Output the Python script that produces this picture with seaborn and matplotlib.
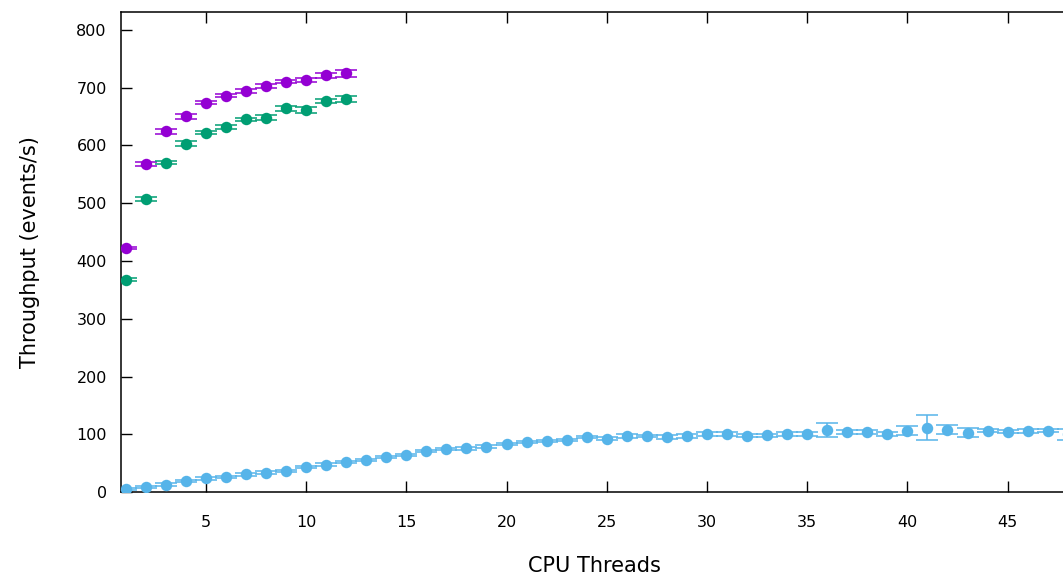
import numpy as np
import pandas as pd
import matplotlib
matplotlib.use("Agg")
import matplotlib.pyplot as plt
import seaborn as sns

# ---- data ----
threads_small = list(range(1, 13))
purple_vals = [422, 568, 624, 650, 674, 686, 694, 703, 710, 713, 721, 725]
purple_err = [2, 3, 4, 4, 3, 3, 3, 3, 3, 4, 4, 6]
green_vals = [368, 507, 570, 603, 622, 632, 645, 648, 664, 661, 677, 680]
green_err = [3, 4, 3, 4, 3, 3, 3, 4, 4, 5, 4, 5]

threads_large = list(range(1, 49))
blue_vals = [5.5, 9, 13.5, 19, 24, 27, 31, 34, 37, 44,
             48, 52, 56, 61, 65, 71, 75, 76, 79, 83,
             86.5, 89, 91, 96, 93, 97, 97, 96, 97, 101,
             101, 98, 98.5, 101, 101, 108, 104, 104, 101, 106.5,
             112, 108, 103, 106.5, 105, 106, 106.5, 100]
blue_err = [2, 2, 2, 2, 2, 2, 2, 2, 2, 2,
            2, 2, 2, 2, 2, 2, 2, 2, 2, 2,
            2, 2, 2, 2, 2, 3, 2, 3, 3, 3,
            3, 3, 3, 3, 3, 11.5, 3, 3, 3, 8,
            21.5, 8, 8, 3, 3, 3, 3, 10]

x_ticks = [5, 10, 15, 20, 25, 30, 35, 40, 45]
y_ticks = [0, 100, 200, 300, 400, 500, 600, 700, 800]
x_label = "CPU Threads"
y_label = "Throughput (events/s)"

colors = ["#9400D3", "#009E73", "#56B4E9"]

# ---- style ----
sns.set_theme(style="ticks")
plt.rcParams["font.family"] = ["DejaVu Sans"]
plt.rcParams["text.color"] = "black"
plt.rcParams["axes.labelcolor"] = "black"

fig = plt.figure(figsize=(10.63, 5.82), dpi=100)
ax = fig.add_axes([0.1135, 0.1541, 0.8921, 0.8247])

series = [
    (threads_small, purple_vals, purple_err, colors[0]),
    (threads_small, green_vals, green_err, colors[1]),
    (threads_large, blue_vals, blue_err, colors[2]),
]

for xs, ys, es, c in series:
    ax.errorbar(xs, ys, yerr=es, fmt="none", ecolor=c, elinewidth=1.1,
                capsize=7.8, capthick=1.1, zorder=2)
    df = pd.DataFrame({"x": xs, "y": ys})
    sns.scatterplot(data=df, x="x", y="y", ax=ax, color=c, s=68,
                    linewidth=0, zorder=3, legend=False)

ax.set_xlim(0.75, 48.06)
ax.set_ylim(0, 830)
ax.set_xticks(x_ticks)
ax.set_yticks(y_ticks)
ax.tick_params(axis="both", direction="in", length=8, width=1.0,
               labelsize=11.5, colors="black", labelcolor="black")
ax.tick_params(axis="x", top=True, pad=16)
ax.tick_params(axis="y", right=False, pad=10)
ax.spines["right"].set_visible(False)
for s in ax.spines.values():
    s.set_linewidth(1.1)
    s.set_color("black")

ax.set_xlabel(x_label, fontsize=15, labelpad=19)
ax.set_ylabel(y_label, fontsize=15, labelpad=26)
ax.grid(False)
ax.set_facecolor("white")
fig.patch.set_facecolor("white")

fig.savefig("out.png", dpi=100)
